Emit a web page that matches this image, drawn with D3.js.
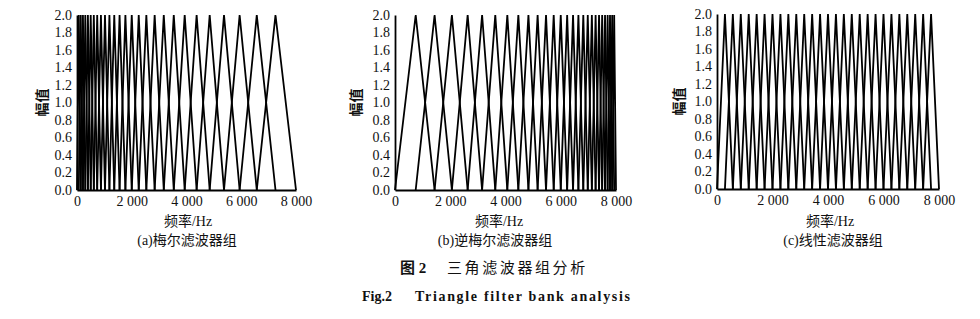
<!DOCTYPE html>
<html>
<head>
<meta charset="utf-8">
<script src="https://cdn.jsdelivr.net/npm/d3@7/dist/d3.min.js"></script>
<style>
  html, body { margin: 0; padding: 0; background: #fff; }
  svg { display: block; }
  text { fill: #111; }
</style>
</head>
<body>
<svg id="chart" width="980" height="319"></svg>
<script>
// ---------- data (filter edge frequencies in Hz; filter i: edges[i-1] -> peak edges[i] -> edges[i+1]) ----------
const melEdges = [0, 66, 138, 217, 303, 398, 501, 614, 738, 874, 1022, 1184, 1361, 1555, 1768,
  2000, 2255, 2533, 2837, 3170, 3535, 3934, 4370, 4847, 5370, 5941, 6567, 7251, 8000];
const invMelEdges = [0, 749, 1433, 2059, 2630, 3153, 3630, 4066, 4465, 4830, 5163, 5467, 5745,
  6000, 6232, 6445, 6639, 6816, 6978, 7126, 7262, 7386, 7499, 7603, 7697, 7783, 7862, 7934, 8000];
const linearEdges = [0, 286, 571, 857, 1143, 1429, 1714, 2000, 2286, 2571, 2857, 3143, 3429, 3714,
  4000, 4286, 4571, 4857, 5143, 5429, 5714, 6000, 6286, 6571, 6857, 7143, 7429, 7714, 8000];
const peakAmplitude = 2.0;
const yTicks = [0, 0.2, 0.4, 0.6, 0.8, 1.0, 1.2, 1.4, 1.6, 1.8, 2.0];
const xTicks = [0, 2000, 4000, 6000, 8000];
const subtitles = ["(a)梅尔滤波器组", "(b)逆梅尔滤波器组", "(c)线性滤波器组"];
const xAxisTitle = "频率/Hz";
const yAxisTitle = "幅值";

// ---------- layout ----------
const panels = [
  { edges: melEdges,    sub: subtitles[0], x0: 77,  x1: 296, yTop: 15, yBot: 190, yTitleX: 42,  xTitleX: 188, subX: 187 },
  { edges: invMelEdges, sub: subtitles[1], x0: 395, x1: 616, yTop: 15, yBot: 190, yTitleX: 356, xTitleX: 499, subX: 495 },
  { edges: linearEdges, sub: subtitles[2], x0: 717, x1: 939, yTop: 14, yBot: 189, yTitleX: 679, xTitleX: 830, subX: 833 }
];
const numFont = "'Liberation Serif', 'Times New Roman', serif";
const cjkFont = "'Liberation Serif', 'Noto Sans CJK SC', serif";
const svg = d3.select("#chart");
const fmtX = d => d === 0 ? "0" : d3.format(",")(d).replace(/,/g, " ");

panels.forEach(p => {
  const x = d3.scaleLinear().domain([0, 8000]).range([p.x0, p.x1]);
  const y = d3.scaleLinear().domain([0, 2]).range([p.yBot, p.yTop]);
  const g = svg.append("g");

  const line = d3.line().x(d => x(d[0])).y(d => y(d[1]));
  const tri = [];
  for (let i = 1; i < p.edges.length - 1; i++) {
    tri.push([[p.edges[i - 1], 0], [p.edges[i], peakAmplitude], [p.edges[i + 1], 0]]);
  }
  g.selectAll("path.tri").data(tri).enter().append("path")
    .attr("class", "tri")
    .attr("d", line)
    .attr("fill", "none")
    .attr("stroke", "#000")
    .attr("stroke-width", 1.8)
    .attr("stroke-linejoin", "miter");

  const yAxis = d3.axisLeft(y).tickValues(yTicks).tickFormat(d3.format(".1f")).tickSize(0).tickPadding(5);
  const gy = g.append("g").attr("transform", `translate(${p.x0},0)`).call(yAxis);
  gy.select(".domain").attr("stroke", "#000").attr("stroke-width", 1.8);
  gy.selectAll("text").attr("font-family", numFont).attr("font-size", 14).attr("fill", "#111");

  const xAxis = d3.axisBottom(x).tickValues(xTicks).tickFormat(fmtX).tickSize(0).tickPadding(6);
  const gx = g.append("g").attr("transform", `translate(0,${p.yBot})`).call(xAxis);
  gx.select(".domain").attr("stroke", "#000").attr("stroke-width", 2.2);
  gx.selectAll("text").attr("font-family", numFont).attr("font-size", 14).attr("fill", "#111");

  g.append("text").attr("x", p.xTitleX).attr("y", 226).attr("text-anchor", "middle")
    .attr("font-family", cjkFont).attr("font-size", 14).text(xAxisTitle);
  g.append("text").attr("x", p.subX).attr("y", 245).attr("text-anchor", "middle")
    .attr("font-family", cjkFont).attr("font-size", 14).text(p.sub);
  g.append("text")
    .attr("transform", `translate(${p.yTitleX},${(p.yTop + p.yBot) / 2}) rotate(-90)`)
    .attr("text-anchor", "middle").attr("dominant-baseline", "central")
    .attr("font-family", cjkFont).attr("font-size", 14).attr("font-weight", 700).text(yAxisTitle);
});

// captions
svg.append("text").attr("x", 400).attr("y", 273)
  .attr("font-family", cjkFont).attr("font-size", 15).attr("font-weight", 700).text("图 2");
svg.append("text").attr("x", 447).attr("y", 273)
  .attr("font-family", cjkFont).attr("font-size", 15).attr("letter-spacing", 2.6).text("三角滤波器组分析");
svg.append("text").attr("x", 362).attr("y", 301)
  .attr("font-family", numFont).attr("font-size", 14).attr("font-weight", 700).text("Fig.2");
svg.append("text").attr("x", 415).attr("y", 301)
  .attr("font-family", numFont).attr("font-size", 14).attr("font-weight", 700)
  .attr("textLength", 215).attr("lengthAdjust", "spacing").text("Triangle filter bank analysis");
</script>
</body>
</html>
